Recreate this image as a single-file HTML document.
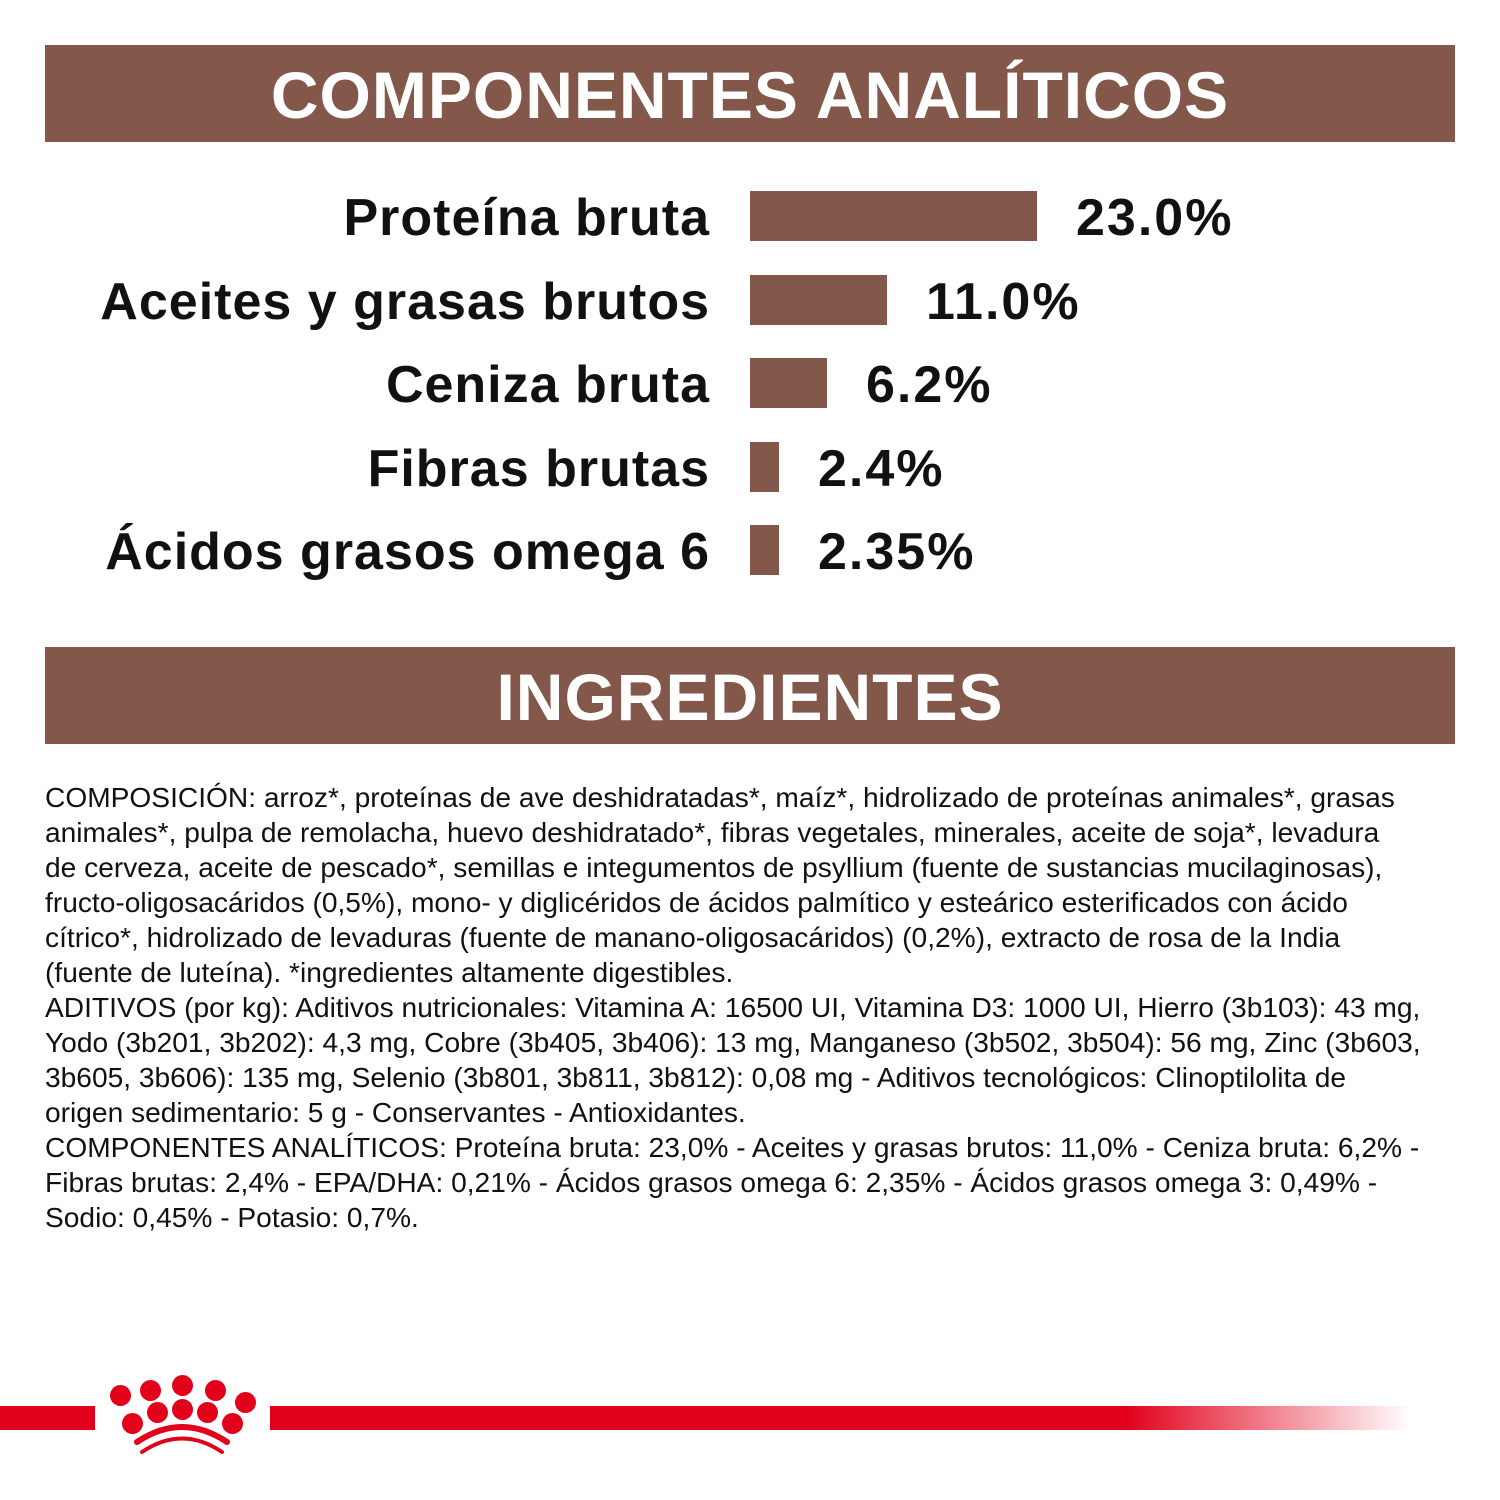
<!DOCTYPE html>
<html><head><meta charset="utf-8"><style>
body{margin:0;width:1500px;height:1500px;background:#fff;position:relative;overflow:hidden;font-family:"Liberation Sans",sans-serif}
.hdr{position:absolute;left:45px;width:1410px;height:97px;background:#84574b;color:#fff;font-weight:bold;font-size:66px;text-align:center;line-height:100px;letter-spacing:1px}
.lab{position:absolute;right:790px;font-weight:bold;font-size:52px;color:#111;white-space:nowrap;line-height:60px;letter-spacing:1px}
.bar{position:absolute;left:750px;background:#84574b;height:50px}
.val{position:absolute;font-weight:bold;font-size:52px;color:#111;line-height:60px;letter-spacing:2px}
.txt{position:absolute;left:45px;top:780px;font-family:"Liberation Sans",sans-serif;font-size:28px;line-height:35px;color:#111;white-space:nowrap;transform:scaleX(1.005);transform-origin:0 0}
.dot{position:absolute;width:21px;height:21px;border-radius:50%;background:#e2001a}
</style></head><body>
<div class="hdr" style="top:45px">COMPONENTES ANALÍTICOS</div>
<div class="lab" style="top:188px">Proteína bruta</div>
<div class="bar" style="top:191px;width:287px"></div><div class="val" style="left:1076px;top:188px">23.0%</div>
<div class="lab" style="top:272px">Aceites y grasas brutos</div>
<div class="bar" style="top:275px;width:137px"></div><div class="val" style="left:926px;top:272px">11.0%</div>
<div class="lab" style="top:355px">Ceniza bruta</div>
<div class="bar" style="top:358px;width:77px"></div><div class="val" style="left:866px;top:355px">6.2%</div>
<div class="lab" style="top:439px">Fibras brutas</div>
<div class="bar" style="top:442px;width:29px"></div><div class="val" style="left:818px;top:439px">2.4%</div>
<div class="lab" style="top:522px">Ácidos grasos omega 6</div>
<div class="bar" style="top:525px;width:29px"></div><div class="val" style="left:818px;top:522px">2.35%</div>
<div class="hdr" style="top:647px">INGREDIENTES</div>
<div class="txt">COMPOSICIÓN: arroz*, proteínas de ave deshidratadas*, maíz*, hidrolizado de proteínas animales*, grasas<br>animales*, pulpa de remolacha, huevo deshidratado*, fibras vegetales, minerales, aceite de soja*, levadura<br>de cerveza, aceite de pescado*, semillas e integumentos de psyllium (fuente de sustancias mucilaginosas),<br>fructo-oligosacáridos (0,5%), mono- y diglicéridos de ácidos palmítico y esteárico esterificados con ácido<br>cítrico*, hidrolizado de levaduras (fuente de manano-oligosacáridos) (0,2%), extracto de rosa de la India<br>(fuente de luteína). *ingredientes altamente digestibles.<br>ADITIVOS (por kg): Aditivos nutricionales: Vitamina A: 16500 UI, Vitamina D3: 1000 UI, Hierro (3b103): 43 mg,<br>Yodo (3b201, 3b202): 4,3 mg, Cobre (3b405, 3b406): 13 mg, Manganeso (3b502, 3b504): 56 mg, Zinc (3b603,<br>3b605, 3b606): 135 mg, Selenio (3b801, 3b811, 3b812): 0,08 mg - Aditivos tecnológicos: Clinoptilolita de<br>origen sedimentario: 5 g - Conservantes - Antioxidantes.<br>COMPONENTES ANALÍTICOS: Proteína bruta: 23,0% - Aceites y grasas brutos: 11,0% - Ceniza bruta: 6,2% -<br>Fibras brutas: 2,4% - EPA/DHA: 0,21% - Ácidos grasos omega 6: 2,35% - Ácidos grasos omega 3: 0,49% -<br>Sodio: 0,45% - Potasio: 0,7%.</div>
<div style="position:absolute;left:0;top:1406px;width:95px;height:24px;background:#e2001a"></div>
<div style="position:absolute;left:270px;top:1406px;width:1140px;height:24px;background:linear-gradient(to right,#e2001a 0,#e2001a 75%,rgba(226,0,26,0) 100%)"></div>
<div class="dot" style="left:110px;top:1385px"></div>
<div class="dot" style="left:140px;top:1380px"></div>
<div class="dot" style="left:172px;top:1375px"></div>
<div class="dot" style="left:205px;top:1380px"></div>
<div class="dot" style="left:235px;top:1392px"></div>
<div class="dot" style="left:122px;top:1413px"></div>
<div class="dot" style="left:147px;top:1402px"></div>
<div class="dot" style="left:172px;top:1399px"></div>
<div class="dot" style="left:197px;top:1402px"></div>
<div class="dot" style="left:222px;top:1413px"></div>
<svg style="position:absolute;left:0;top:0" width="1500" height="1500"><path d="M137 1442 Q182 1412 227 1442" stroke="#e2001a" stroke-width="6" fill="none" stroke-linecap="round"/><path d="M142 1452 Q182 1425 222 1452" stroke="#e2001a" stroke-width="4" fill="none" stroke-linecap="round"/></svg>
</body></html>
